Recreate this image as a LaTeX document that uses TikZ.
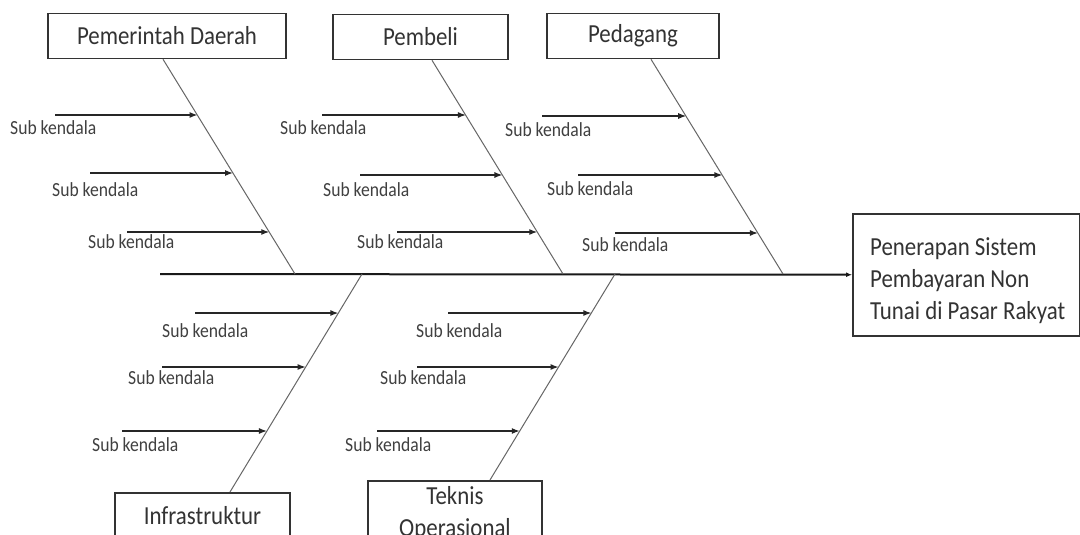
\documentclass[tikz,border=0pt]{standalone}
\usepackage{fontspec}
\setmainfont{Carlito}[FakeStretch=0.88]
\usetikzlibrary{arrows.meta,calc}
\begin{document}
\begin{tikzpicture}[x=1pt,y=-1pt,
  box/.style={draw=black!80, line width=1.5pt, inner sep=0pt, text=black!80,
    font=\fontsize{26}{32}\selectfont},
  subtext/.style={font=\fontsize{20}{24}\selectfont, text=black!75, inner sep=0pt, anchor=base west},
  bone/.style={draw=black!60, line width=1pt},
  subarrow/.style={draw=black!85, line width=1.3pt, -{Latex[length=8pt,width=6pt]}},
  spine/.style={draw=black!90, line width=2pt, -{Latex[length=6pt,width=5pt]}}]
\clip (0,0) rectangle (1080,535);
\fill[white] (0,0) rectangle (1080,535);

% category boxes
\node[box, minimum width=238pt, minimum height=45pt] (pd) at (167,36) {Pemerintah Daerah};
\node[box, minimum width=175pt, minimum height=45pt] (pb) at (420.5,37) {Pembeli};
\node[box, minimum width=172pt, minimum height=45pt] (pg) at (633,36) {Pedagang};
\node[box, minimum width=175pt, minimum height=46pt, anchor=north] (inf) at (202.5,492) {Infrastruktur};
\node[box, minimum width=174pt, minimum height=66pt, anchor=north, align=center] (tk) at (455,480) {Teknis\\Operasional};

% effect box
\node[box, minimum width=227pt, minimum height=122pt, anchor=north west] (target) at (852,213) {};
\node[anchor=north west, align=left, inner sep=0pt, text=black!80,
  font=\fontsize{26}{32}\selectfont] (targettext) at (870,237)
  {Penerapan Sistem\\Pembayaran Non\\Tunai di Pasar Rakyat};

% spine
\coordinate (spst) at (160,274);
\draw[spine] (spst) -- (target.west);

% bones
\coordinate (pdT) at ($(pd.south)+(-4,0)$);
\coordinate (pdB) at (295,274);
\coordinate (pbT) at ($(pb.south)+(11.5,0)$);
\coordinate (pbB) at (563,274);
\coordinate (pgT) at ($(pg.south)+(18,0)$);
\coordinate (pgB) at (783,274);
\coordinate (infT) at (362,274);
\coordinate (infB) at ($(inf.north)+(27.5,0)$);
\coordinate (tkT) at (615,274);
\coordinate (tkB) at ($(tk.north)+(35,0)$);
\draw[bone] (pdT) -- (pdB);
\draw[bone] (pbT) -- (pbB);
\draw[bone] (pgT) -- (pgB);
\draw[bone] (infT) -- (infB);
\draw[bone] (tkT) -- (tkB);

% sub-cause arrows: name/startx/y/t/labelx/labely
\foreach \b/\i/\sx/\y/\t/\lx/\ly in {
  pd/1/55/115/0.262/10/134, pd/2/90/173/0.531/52/196, pd/3/127/232/0.805/88/248,
  pb/1/322/115/0.259/280/134, pb/2/360/175/0.538/323/196, pb/3/397/232/0.804/357/248,
  pg/1/542/116/0.267/505/136, pg/2/578/175/0.541/547/195, pg/3/615/233/0.810/582/251,
  inf/1/195/313/0.179/162/337, inf/2/162/367/0.427/128/384, inf/3/122/431/0.720/92/451,
  tk/1/448/313/0.189/416/337, tk/2/417/367/0.451/380/384, tk/3/377/431/0.762/345/451}{
  \coordinate (\b s\i) at (\sx,\y);
  \coordinate (\b e\i) at ($(\b T)!\t!(\b B)$);
  \draw[subarrow] (\b s\i) -- (\b s\i -| \b e\i);
  \node[subtext] (\b l\i) at (\lx,\ly) {Sub kendala};
}
\end{tikzpicture}
\end{document}
